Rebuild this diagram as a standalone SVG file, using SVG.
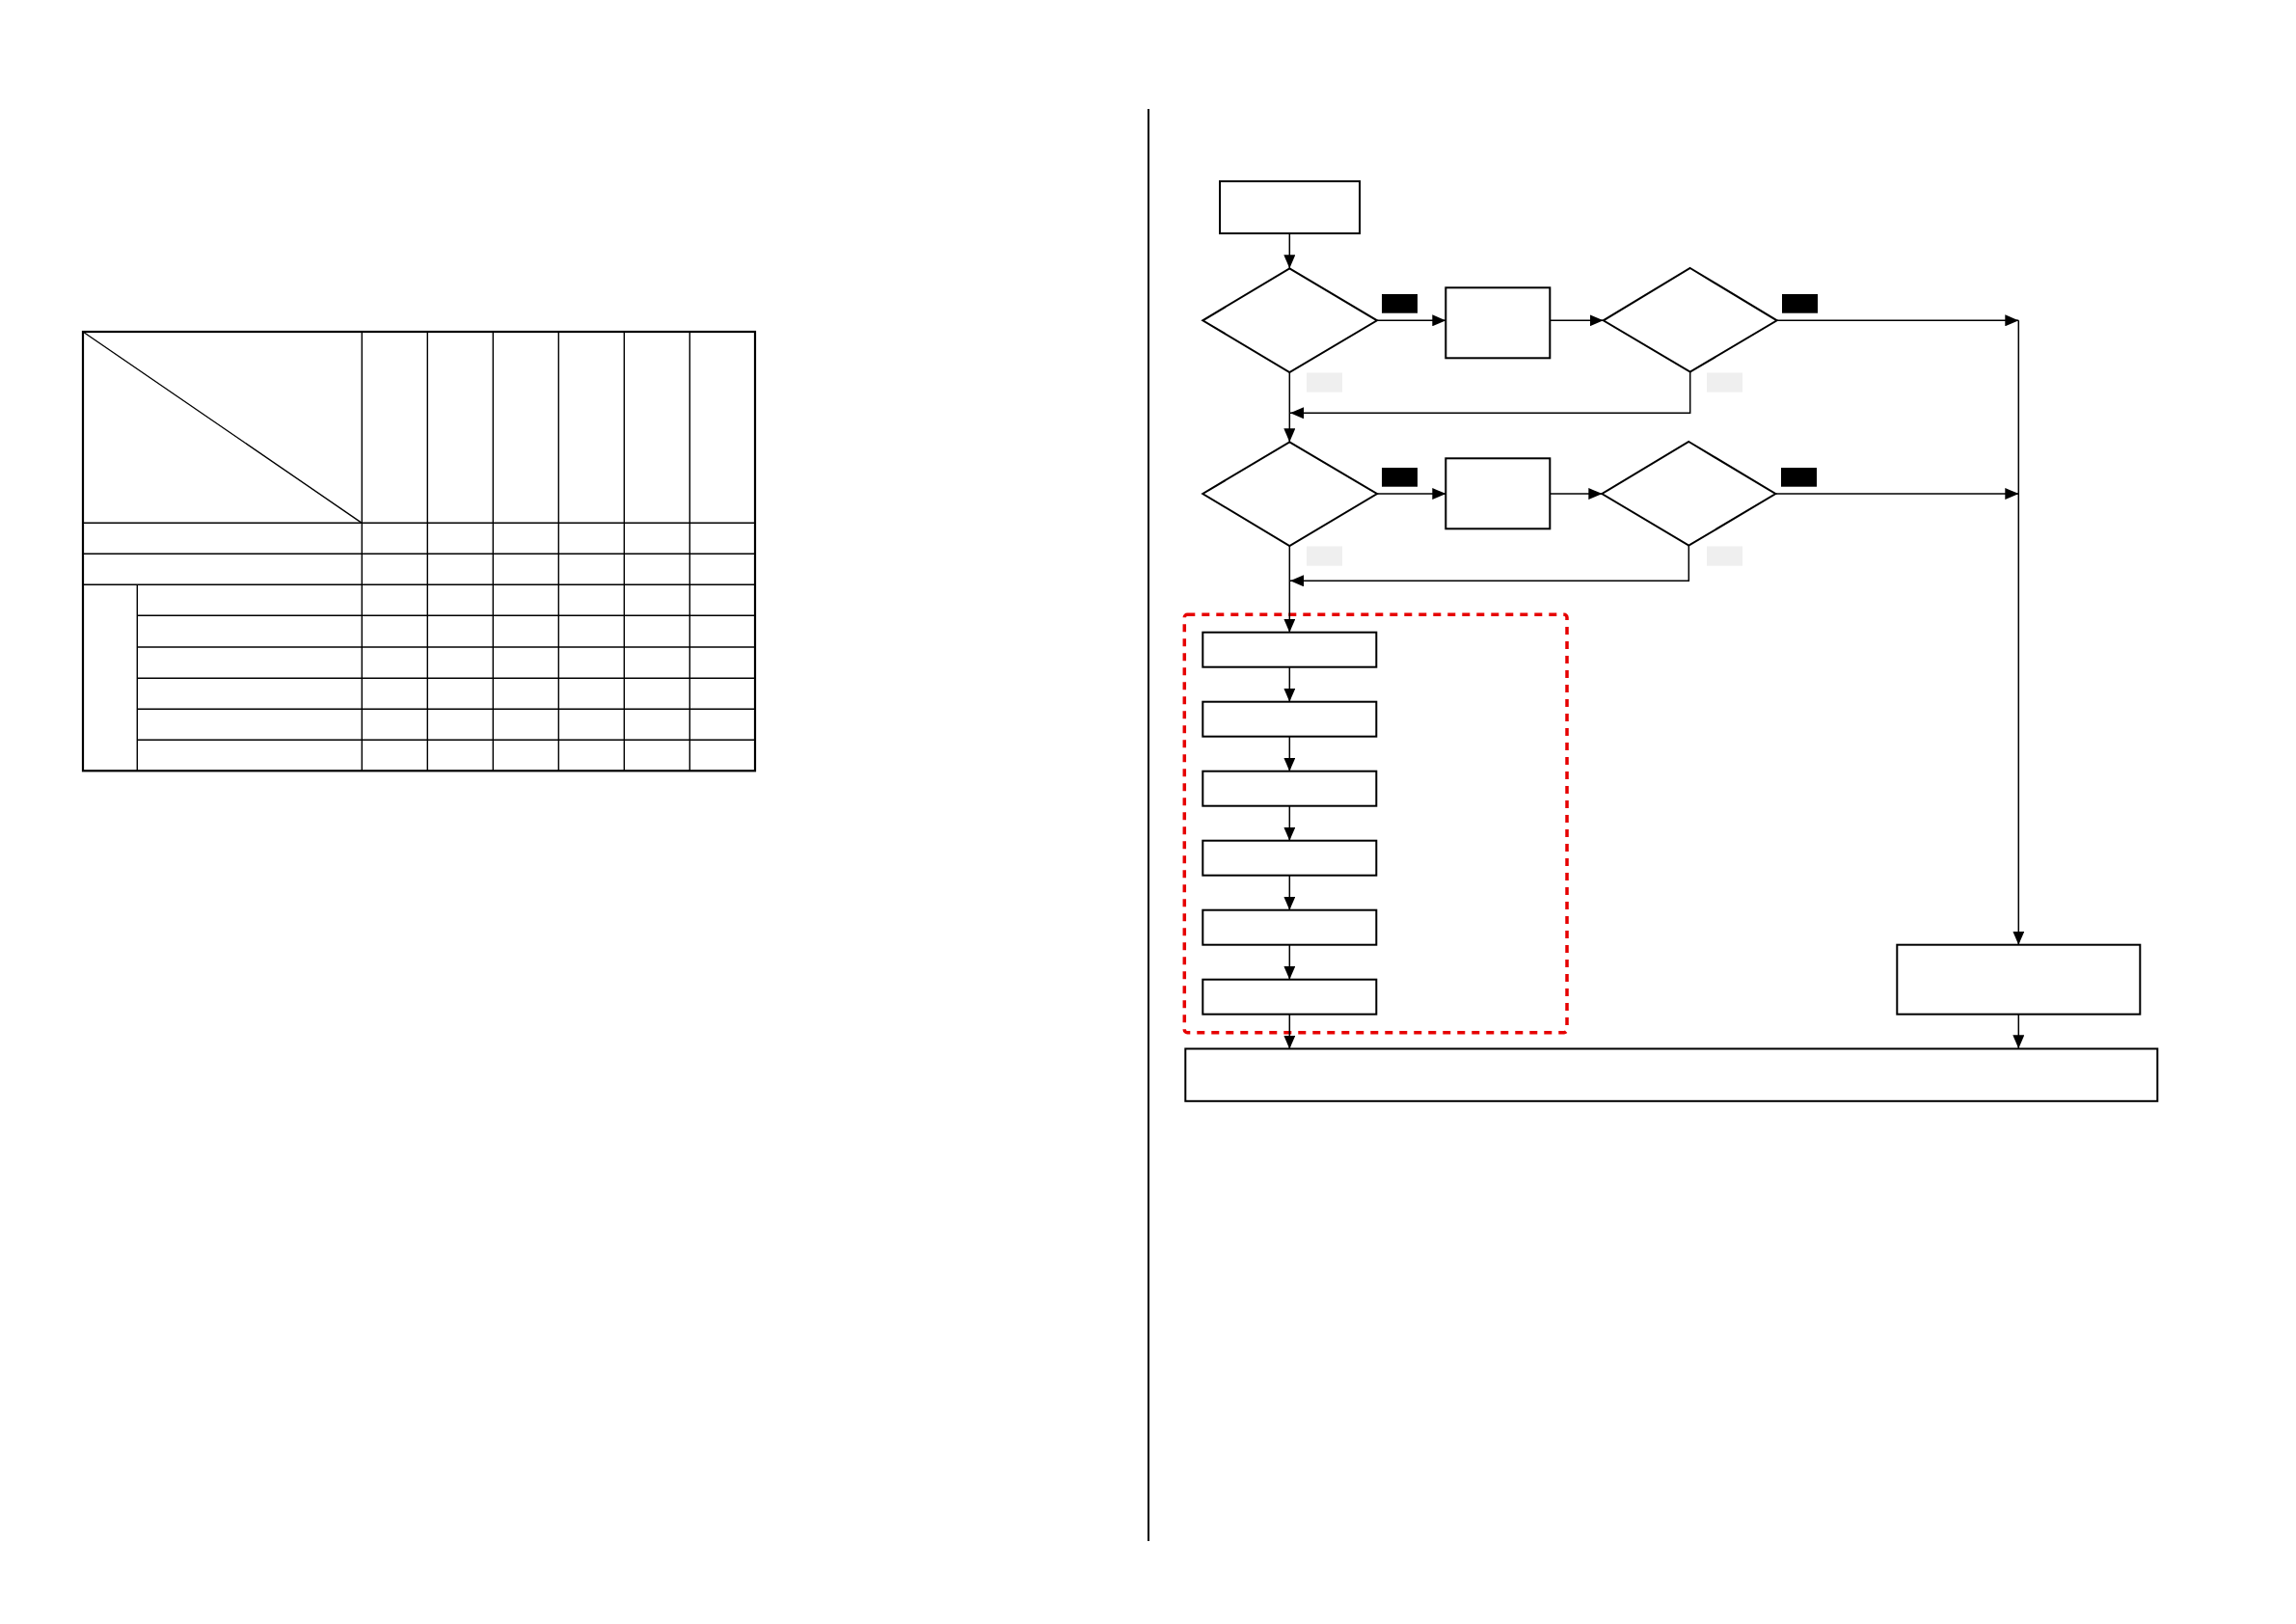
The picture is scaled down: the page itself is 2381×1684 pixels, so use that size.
<svg xmlns="http://www.w3.org/2000/svg" width="2381" height="1684" viewBox="0 0 2381 1684">
<style>
.bx{fill:#fff;stroke:#000;stroke-width:2}
.dm{fill:#fff;stroke:#000;stroke-width:2}
.cn{fill:none;stroke:#000;stroke-width:1.5}
.tl{stroke:#000;stroke-width:1.4}
.blk{fill:#000}
.gry{fill:#efefef}
</style>
<defs>
<marker id="arr" markerWidth="14" markerHeight="12" refX="14" refY="6" orient="auto" markerUnits="userSpaceOnUse">
<path d="M0,0 L14,6 L0,12 z" fill="#000"/>
</marker>
</defs>
<rect width="2381" height="1684" fill="#fff"/>

<g id="table">
<rect x="86" y="344" width="697" height="455.3" fill="none" stroke="#000" stroke-width="2.2"/>
<line class="tl" x1="86" y1="344" x2="375.3" y2="542.3"/>
<g class="tl">
<line x1="375.3" y1="344" x2="375.3" y2="799.3"/>
<line x1="443.3" y1="344" x2="443.3" y2="799.3"/>
<line x1="511.3" y1="344" x2="511.3" y2="799.3"/>
<line x1="579.3" y1="344" x2="579.3" y2="799.3"/>
<line x1="647.3" y1="344" x2="647.3" y2="799.3"/>
<line x1="715.3" y1="344" x2="715.3" y2="799.3"/>
<line x1="142.3" y1="606.3" x2="142.3" y2="799.3"/>
<line x1="86" y1="542.3" x2="783" y2="542.3"/>
<line x1="86" y1="574.3" x2="783" y2="574.3"/>
<line x1="86" y1="606.3" x2="783" y2="606.3"/>
<line x1="142.3" y1="638.3" x2="783" y2="638.3"/>
<line x1="142.3" y1="671" x2="783" y2="671"/>
<line x1="142.3" y1="703.3" x2="783" y2="703.3"/>
<line x1="142.3" y1="735.3" x2="783" y2="735.3"/>
<line x1="142.3" y1="767.3" x2="783" y2="767.3"/>
</g>
</g>

<g id="divider">
<line x1="1191" y1="113" x2="1191" y2="1598" stroke="#000" stroke-width="2"/>
</g>

<g id="group-frame">
<rect x="1228.3" y="637.3" width="396.7" height="433.4" rx="3" fill="none" stroke="#e60000" stroke-width="3.5" stroke-dasharray="8 7"/>
</g>

<g id="connectors">
<line class="cn" x1="1337.3" y1="242" x2="1337.3" y2="278.3" marker-end="url(#arr)"/>
<line class="cn" x1="1428" y1="332.3" x2="1499.3" y2="332.3" marker-end="url(#arr)"/>
<line class="cn" x1="1607.3" y1="332.3" x2="1662.7" y2="332.3" marker-end="url(#arr)"/>
<line class="cn" x1="1842.7" y1="332.3" x2="2093.3" y2="332.3" marker-end="url(#arr)"/>
<path class="cn" d="M1752.7,385.7 V428.3 H1338" marker-end="url(#arr)"/>
<line class="cn" x1="1337.3" y1="386" x2="1337.3" y2="458.3" marker-end="url(#arr)"/>
<line class="cn" x1="1428" y1="512" x2="1499.3" y2="512" marker-end="url(#arr)"/>
<line class="cn" x1="1607.3" y1="512" x2="1661.3" y2="512" marker-end="url(#arr)"/>
<line class="cn" x1="1841.3" y1="512" x2="2093.3" y2="512" marker-end="url(#arr)"/>
<path class="cn" d="M1751.3,565.7 V602.3 H1338" marker-end="url(#arr)"/>
<line class="cn" x1="1337.3" y1="566" x2="1337.3" y2="655.7" marker-end="url(#arr)"/>
<line class="cn" x1="1337.3" y1="691.7" x2="1337.3" y2="727.7" marker-end="url(#arr)"/>
<line class="cn" x1="1337.3" y1="763.7" x2="1337.3" y2="799.7" marker-end="url(#arr)"/>
<line class="cn" x1="1337.3" y1="835.7" x2="1337.3" y2="871.7" marker-end="url(#arr)"/>
<line class="cn" x1="1337.3" y1="907.7" x2="1337.3" y2="943.7" marker-end="url(#arr)"/>
<line class="cn" x1="1337.3" y1="979.7" x2="1337.3" y2="1015.7" marker-end="url(#arr)"/>
<line class="cn" x1="1337.3" y1="1051.7" x2="1337.3" y2="1087.7" marker-end="url(#arr)"/>
<line class="cn" x1="2093.3" y1="332.3" x2="2093.3" y2="979.7" marker-end="url(#arr)"/>
<line class="cn" x1="2093.3" y1="1051.7" x2="2093.3" y2="1087.3" marker-end="url(#arr)"/>
</g>

<g id="labels">
<rect class="blk" x="1433" y="305" width="37" height="19.7"/>
<rect class="blk" x="1848" y="305" width="37" height="19.7"/>
<rect class="blk" x="1433" y="485" width="37" height="19.7"/>
<rect class="blk" x="1847" y="485" width="37" height="19.7"/>
<rect class="gry" x="1355" y="386.5" width="37" height="20.2"/>
<rect class="gry" x="1770" y="386.5" width="37" height="20.2"/>
<rect class="gry" x="1355" y="566.5" width="37" height="20.2"/>
<rect class="gry" x="1770" y="566.5" width="37" height="20.2"/>
</g>

<g id="start"><rect class="bx" x="1265" y="188" width="145" height="54"/></g>
<g id="decision1"><polygon class="dm" points="1337.3,278.3 1428,332.3 1337.3,386 1247.3,332.3"/></g>
<g id="process1"><rect class="bx" x="1499.3" y="298.3" width="108" height="73"/></g>
<g id="decision2"><polygon class="dm" points="1752.7,278 1842.7,332.3 1752.7,385.7 1662.7,332.3"/></g>
<g id="decision3"><polygon class="dm" points="1337.3,458.3 1428,512 1337.3,566 1247.3,512"/></g>
<g id="process2"><rect class="bx" x="1499.3" y="475.3" width="108" height="73"/></g>
<g id="decision4"><polygon class="dm" points="1751.3,458 1841.3,512 1751.3,565.7 1661.3,512"/></g>
<g id="step1"><rect class="bx" x="1247.3" y="655.7" width="180" height="36"/></g>
<g id="step2"><rect class="bx" x="1247.3" y="727.7" width="180" height="36"/></g>
<g id="step3"><rect class="bx" x="1247.3" y="799.7" width="180" height="36"/></g>
<g id="step4"><rect class="bx" x="1247.3" y="871.7" width="180" height="36"/></g>
<g id="step5"><rect class="bx" x="1247.3" y="943.7" width="180" height="36"/></g>
<g id="step6"><rect class="bx" x="1247.3" y="1015.7" width="180" height="36"/></g>
<g id="side-box"><rect class="bx" x="1967.3" y="979.7" width="252" height="72"/></g>
<g id="end"><rect class="bx" x="1229.3" y="1087.5" width="1008" height="54.3"/></g>
</svg>
